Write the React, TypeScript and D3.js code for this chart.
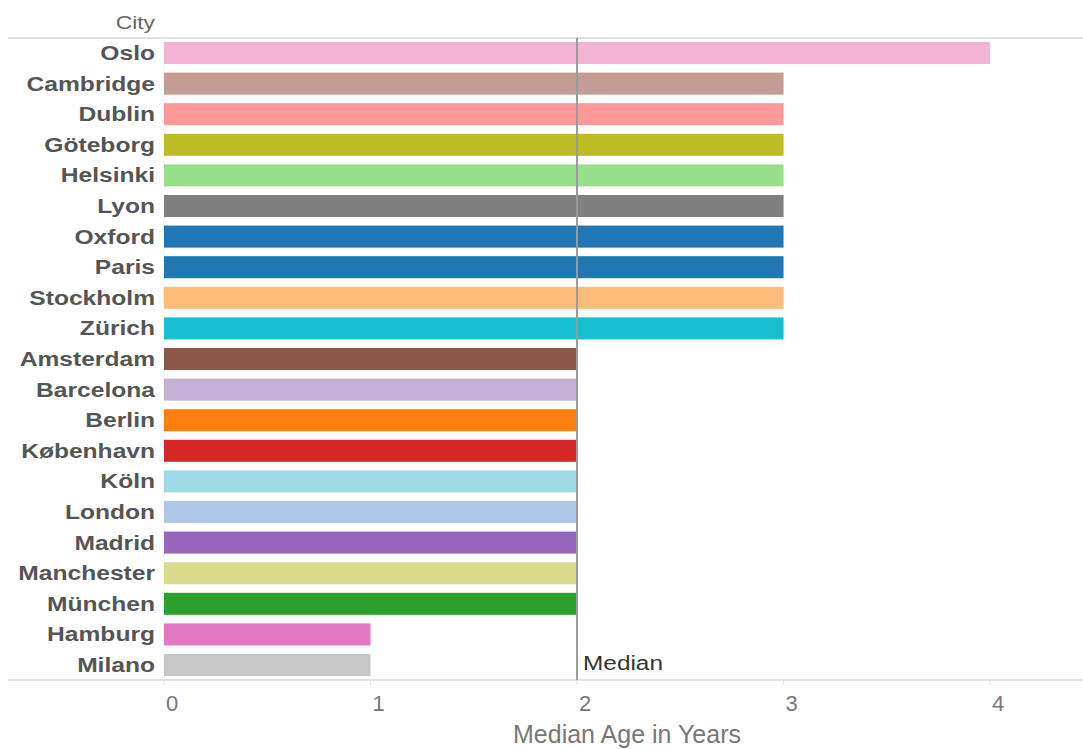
import React from "react";
import * as d3 from "d3";

const cities = [
  "Oslo", "Cambridge", "Dublin", "Göteborg", "Helsinki", "Lyon", "Oxford", "Paris",
  "Stockholm", "Zürich", "Amsterdam", "Barcelona", "Berlin", "København", "Köln",
  "London", "Madrid", "Manchester", "München", "Hamburg", "Milano",
];
const ages = [4, 3, 3, 3, 3, 3, 3, 3, 3, 3, 2, 2, 2, 2, 2, 2, 2, 2, 2, 1, 1];
const colors = [
  "#f4b3d0", "#c49c94", "#ff9896", "#bcbd22", "#98df8a", "#7f7f7f", "#1f77b4", "#1f77b4",
  "#ffbb78", "#17becf", "#8c564b", "#c5b0d5", "#ff7f0e", "#d62728", "#9edae5",
  "#aec7e8", "#9467bd", "#dbdb8d", "#2ca02c", "#e377c2", "#c7c7c7",
];
const xTicks = [0, 1, 2, 3, 4];
const medianValue = 2;

const W = 1083;
const H = 749;
const left = 164;
const top = 38;
const bottom = 680;

function SText(props: {
  x: number;
  y: number;
  sx?: number;
  anchor?: string;
  size: number;
  weight?: string;
  fill: string;
  children: React.ReactNode;
}) {
  const { x, y, sx = 1.2, anchor = "start", size, weight = "normal", fill, children } = props;
  return (
    <g transform={`translate(${x},${y}) scale(${sx},1)`}>
      <text x={0} y={0} textAnchor={anchor} fontSize={size} fontWeight={weight} fill={fill}>
        {children}
      </text>
    </g>
  );
}

export default function App() {
  const x = d3.scaleLinear().domain([0, 4.45]).range([left, W]);
  const y = d3
    .scaleBand<string>()
    .domain(cities)
    .range([top, bottom])
    .paddingInner(0.28)
    .paddingOuter(0.13);
  const font = "'Liberation Sans', Arial, sans-serif";
  const mx = x(medianValue);
  return (
    <svg
      width={W}
      height={H}
      style={{ position: "absolute", left: 0, top: 0, background: "#fff" }}
      fontFamily={font}
    >
      <SText x={155} y={29} anchor="end" size={19} fill="#666" sx={1.2}>
        City
      </SText>
      <line x1={8} x2={W} y1={top} y2={top} stroke="#d9d9d9" strokeWidth={1.5} />
      <line x1={8} x2={W} y1={bottom} y2={bottom} stroke="#d9d9d9" strokeWidth={1.5} />
      <line x1={left} x2={left} y1={top} y2={bottom} stroke="#f0f0f0" strokeWidth={1} />
      {cities.map((c, i) => (
        <g key={c}>
          <rect
            x={x(0)}
            y={y(c)!}
            width={x(ages[i]) - x(0)}
            height={y.bandwidth()}
            fill={colors[i]}
          />
          <SText
            x={155}
            y={y(c)! + y.bandwidth() / 2 + 7}
            anchor="end"
            size={20}
            weight="bold"
            fill="#555"
            sx={1.23}
          >
            {c}
          </SText>
        </g>
      ))}
      <line x1={mx} x2={mx} y1={top} y2={bottom} stroke="#9a9a9a" strokeWidth={2} />
      <SText x={mx + 6} y={670} size={19.5} fill="#333" sx={1.25}>
        Median
      </SText>
      {xTicks.map((t) => (
        <g key={t}>
          <line x1={x(t)} x2={x(t)} y1={bottom} y2={bottom + 5} stroke="#e0e0e0" />
          <SText x={x(t) + 8} y={711} anchor="middle" size={22} fill="#777" sx={1.0}>
            {t}
          </SText>
        </g>
      ))}
      <SText x={627} y={743} anchor="middle" size={25} fill="#777" sx={1.0}>
        Median Age in Years
      </SText>
    </svg>
  );
}
